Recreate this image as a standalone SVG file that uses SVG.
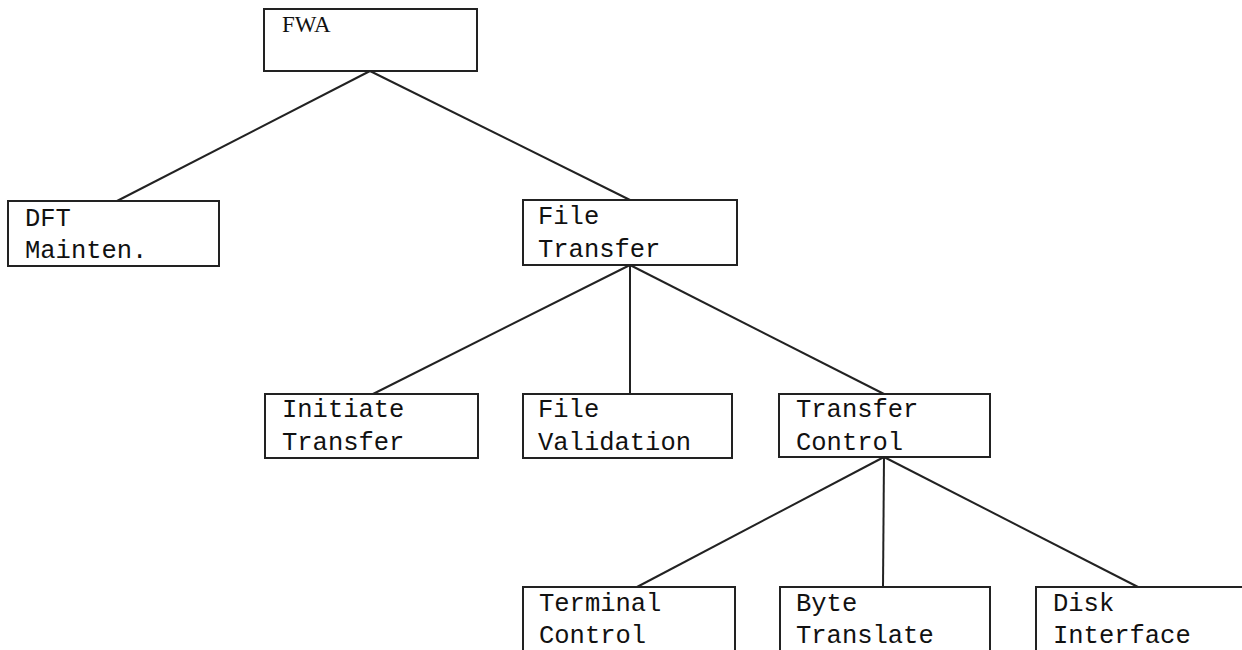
<svg xmlns="http://www.w3.org/2000/svg" width="1242" height="650" viewBox="0 0 1242 650">
<style>
.box{fill:#fff;stroke:#222;stroke-width:2}
.lbl{font-family:"Liberation Mono","DejaVu Sans Mono",monospace;font-size:25.5px;fill:#111}
.ser{font-family:"Liberation Serif","DejaVu Serif",serif;font-size:23px;fill:#111}
.conn line{stroke:#222;stroke-width:2}
</style>
<rect width="1242" height="650" fill="#fff"/>
<g class="conn" id="connectors">
<line x1="370" y1="71" x2="117" y2="201"/>
<line x1="370" y1="71" x2="630" y2="200"/>
<line x1="630" y1="265" x2="373" y2="394"/>
<line x1="630" y1="265" x2="630" y2="394"/>
<line x1="630" y1="265" x2="884" y2="394"/>
<line x1="884" y1="457" x2="637" y2="587"/>
<line x1="884" y1="457" x2="883" y2="587"/>
<line x1="884" y1="457" x2="1138" y2="587"/>
</g>
<g id="fwa"><rect class="box" x="264" y="9" width="213" height="62"/><text class="ser" x="282" y="32">FWA</text></g>
<g id="dft"><rect class="box" x="8" y="201" width="211" height="65"/><text class="lbl" x="25" y="226">DFT</text><text class="lbl" x="25" y="258">Mainten.</text></g>
<g id="filetransfer"><rect class="box" x="523" y="200" width="214" height="65"/><text class="lbl" x="538" y="224">File</text><text class="lbl" x="538" y="257">Transfer</text></g>
<g id="initiate"><rect class="box" x="265" y="394" width="213" height="64"/><text class="lbl" x="282" y="417">Initiate</text><text class="lbl" x="282" y="450">Transfer</text></g>
<g id="validation"><rect class="box" x="523" y="394" width="209" height="64"/><text class="lbl" x="538" y="417">File</text><text class="lbl" x="538" y="450">Validation</text></g>
<g id="transfercontrol"><rect class="box" x="779" y="394" width="211" height="63"/><text class="lbl" x="796" y="417">Transfer</text><text class="lbl" x="796" y="450">Control</text></g>
<g id="terminal"><rect class="box" x="523" y="587" width="212" height="80"/><text class="lbl" x="539" y="611">Terminal</text><text class="lbl" x="539" y="643">Control</text></g>
<g id="byte"><rect class="box" x="780" y="587" width="210" height="80"/><text class="lbl" x="796" y="611">Byte</text><text class="lbl" x="796" y="643">Translate</text></g>
<g id="disk"><rect class="box" x="1036" y="587" width="230" height="80"/><text class="lbl" x="1053" y="611">Disk</text><text class="lbl" x="1053" y="643">Interface</text></g>
</svg>
